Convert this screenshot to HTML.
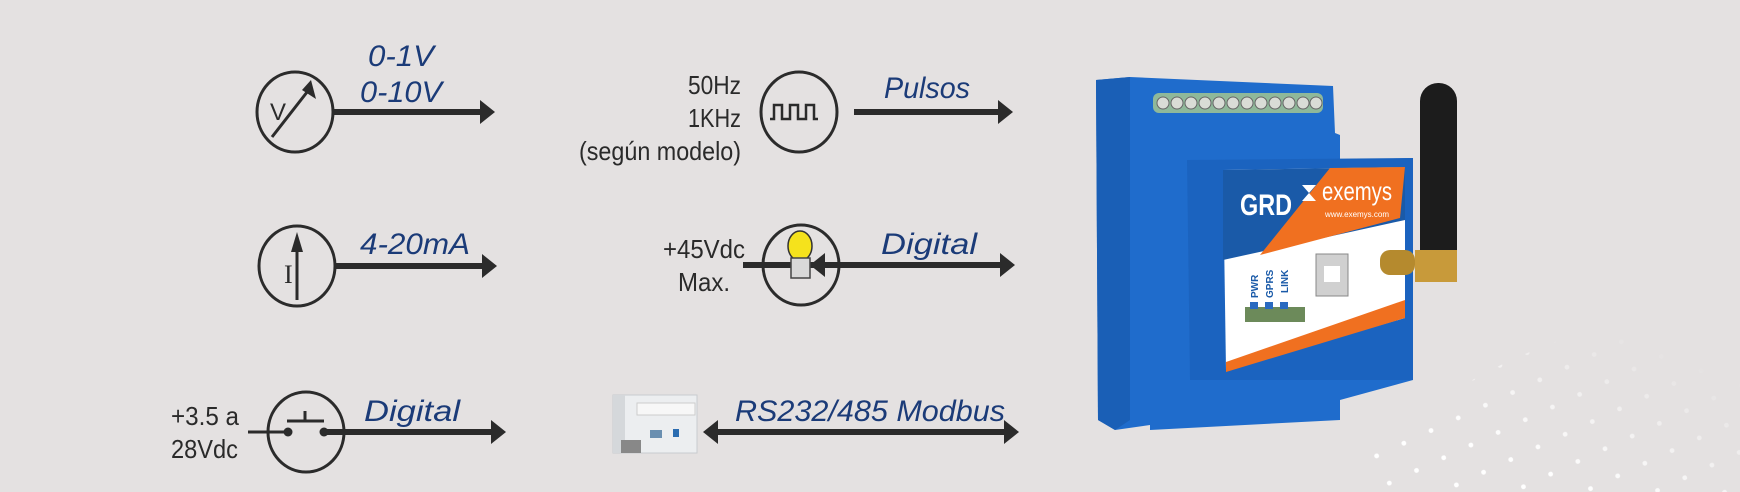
<!DOCTYPE html>
<html><head><meta charset="utf-8"><style>
html,body{margin:0;padding:0;background:#e4e1e1;}
svg{display:block}
.b{font-family:"Liberation Sans",sans-serif;font-style:italic;fill:#1b3b78;font-size:30px}
.k{font-family:"Liberation Sans",sans-serif;fill:#2a2a2a;font-size:26px}
</style></head><body>
<svg width="1740" height="492" viewBox="0 0 1740 492" xmlns="http://www.w3.org/2000/svg">
<defs>
<pattern id="dots" width="30" height="30" patternUnits="userSpaceOnUse" patternTransform="rotate(-25)">
<circle cx="5" cy="5" r="2.4" fill="#fff"/></pattern>
<linearGradient id="fade" x1="0" y1="1" x2="1" y2="0"><stop offset="0.3" stop-color="#fff" stop-opacity="1"/><stop offset="0.8" stop-color="#fff" stop-opacity="0"/></linearGradient>
<mask id="m"><path d="M1340,492 Q1470,330 1740,300 L1740,492 Z" fill="url(#fade)"/></mask>
</defs>
<rect width="1740" height="492" fill="#e4e1e1"/>
<rect x="1330" y="290" width="410" height="202" fill="url(#dots)" mask="url(#m)"/>

<g stroke="#2b2b2b" fill="none" stroke-width="3">
<ellipse cx="295" cy="112" rx="38" ry="40"/>
<line x1="333" y1="112" x2="482" y2="112" stroke-width="6"/>
<line x1="272" y1="137" x2="311" y2="87"/>
<ellipse cx="799" cy="112" rx="38" ry="40"/>
<line x1="854" y1="112" x2="1000" y2="112" stroke-width="6"/>
<path d="M770,119 h4 v-14 h8 v14 h8 v-14 h8 v14 h8 v-14 h8 v14 h4" stroke-width="2.5"/>
<ellipse cx="297" cy="266" rx="38" ry="40"/>
<line x1="335" y1="266" x2="484" y2="266" stroke-width="6"/>
<line x1="297" y1="300" x2="297" y2="245"/>
<ellipse cx="801" cy="265" rx="38" ry="40"/>
<line x1="743" y1="265" x2="1002" y2="265" stroke-width="6"/>
<ellipse cx="306" cy="432" rx="38" ry="40"/>
<line x1="248" y1="432" x2="288" y2="432"/>
<line x1="324" y1="432" x2="493" y2="432" stroke-width="6"/>
<line x1="287" y1="421" x2="324" y2="421"/>
<line x1="305" y1="421" x2="305" y2="411"/>
<line x1="716" y1="432" x2="1006" y2="432" stroke-width="6"/>
</g>
<g fill="#2b2b2b">
<path d="M480,100 L495,112 L480,124 Z"/>
<path d="M998,100 L1013,112 L998,124 Z"/>
<path d="M311,80 L316,99 L302,90 Z"/>
<path d="M482,254 L497,266 L482,278 Z"/>
<path d="M297,232 L291,252 L303,252 Z"/>
<text x="284" y="283" font-family="Liberation Serif" font-size="26">I</text>
<text x="270" y="120" font-family="Liberation Sans" font-size="24">V</text>
<path d="M1000,253 L1015,265 L1000,277 Z"/>
<path d="M825,253 L810,265 L825,277 Z"/>
<circle cx="288" cy="432" r="4.5"/><circle cx="324" cy="432" r="4.5"/>
<path d="M491,420 L506,432 L491,444 Z"/>
<path d="M1004,420 L1019,432 L1004,444 Z"/>
<path d="M718,420 L703,432 L718,444 Z"/>
</g>
<ellipse cx="800" cy="246" rx="12" ry="15" fill="#f5e21c" stroke="#333" stroke-width="1.5"/>
<rect x="791" y="258" width="19" height="20" fill="#d8d8d8" stroke="#444" stroke-width="1.5"/>
<g>
<rect x="613" y="395" width="84" height="58" fill="#eceef0" stroke="#c9cccf"/>
<rect x="613" y="395" width="12" height="58" fill="#d5d8db"/>
<rect x="637" y="403" width="58" height="12" fill="#f7f7f7" stroke="#ccc"/>
<rect x="650" y="430" width="12" height="8" fill="#6a8fb0"/><rect x="673" y="429" width="6" height="8" fill="#2b6cb0"/>
<rect x="621" y="440" width="20" height="13" fill="#888"/>
</g>
<g lengthAdjust="spacingAndGlyphs">
<text class="b" x="368" y="66" textLength="66" lengthAdjust="spacingAndGlyphs">0-1V</text>
<text class="b" x="360" y="102" textLength="82" lengthAdjust="spacingAndGlyphs">0-10V</text>
<text class="b" x="884" y="98" textLength="86" lengthAdjust="spacingAndGlyphs">Pulsos</text>
<text class="k" x="688" y="94" textLength="53" lengthAdjust="spacingAndGlyphs">50Hz</text>
<text class="k" x="688" y="127" textLength="53" lengthAdjust="spacingAndGlyphs">1KHz</text>
<text class="k" x="579" y="160" textLength="162" lengthAdjust="spacingAndGlyphs">(según modelo)</text>
<text class="b" x="360" y="254" textLength="110" lengthAdjust="spacingAndGlyphs">4-20mA</text>
<text class="b" x="881" y="254" textLength="96" lengthAdjust="spacingAndGlyphs">Digital</text>
<text class="k" x="663" y="258" textLength="82" lengthAdjust="spacingAndGlyphs">+45Vdc</text>
<text class="k" x="678" y="291" textLength="52" lengthAdjust="spacingAndGlyphs">Max.</text>
<text class="b" x="364" y="421" textLength="96" lengthAdjust="spacingAndGlyphs">Digital</text>
<text class="k" x="171" y="425" textLength="68" lengthAdjust="spacingAndGlyphs">+3.5 a</text>
<text class="k" x="171" y="458" textLength="67" lengthAdjust="spacingAndGlyphs">28Vdc</text>
<text class="b" x="735" y="421" textLength="270" lengthAdjust="spacingAndGlyphs">RS232/485 Modbus</text>
</g>

<g>
<path d="M1096,80 L1130,77 L1333,86 L1335,133 L1340,135 L1340,160 L1413,158 L1413,380 L1340,400 L1340,420 L1150,430 L1150,425 L1115,430 L1098,420 Z" fill="#1f6ccc"/>
<path d="M1096,80 L1130,77 L1130,420 L1115,430 L1098,420 Z" fill="#1a5fb6"/>
<rect x="1153" y="93" width="170" height="20" rx="6" fill="#8fb89a"/>
<g fill="#d9dcd6" stroke="#666" stroke-width="1">
<circle cx="1163" cy="103" r="6"/><circle cx="1177" cy="103" r="6"/><circle cx="1191" cy="103" r="6"/><circle cx="1205" cy="103" r="6"/><circle cx="1219" cy="103" r="6"/><circle cx="1233" cy="103" r="6"/><circle cx="1247" cy="103" r="6"/><circle cx="1261" cy="103" r="6"/><circle cx="1275" cy="103" r="6"/><circle cx="1289" cy="103" r="6"/><circle cx="1303" cy="103" r="6"/><circle cx="1316" cy="103" r="6"/>
</g>
<path d="M1187,160 L1413,158 L1413,380 L1190,380 Z" fill="#1b63bf"/>
<path d="M1223,170 L1405,167 L1405,318 L1226,370 Z" fill="#fff"/>
<path d="M1223,170 L1405,167 L1405,220 L1223,260 Z" fill="#1a5aa8"/>
<path d="M1330,168 L1405,167 L1400,218 L1260,255 Z" fill="#f07020"/>
<path d="M1405,300 L1405,318 L1226,372 L1226,362 Z" fill="#f07020"/>
<text x="1240" y="215" font-family="Liberation Sans" font-weight="bold" font-size="30" fill="#fff" textLength="52" lengthAdjust="spacingAndGlyphs">GRD</text>
<text x="1322" y="200" font-family="Liberation Sans" font-size="26" fill="#fff" textLength="70" lengthAdjust="spacingAndGlyphs">exemys</text>
<text x="1325" y="217" font-family="Liberation Sans" font-size="8" fill="#fff">www.exemys.com</text>
<path d="M1302,185 l14,0 l-7,8 z M1302,201 l14,0 l-7,-8 z" fill="#fff"/>
<rect x="1316" y="254" width="32" height="42" fill="#d0d0d0" stroke="#888"/>
<rect x="1324" y="266" width="16" height="16" fill="#fff"/>
<g font-family="Liberation Sans" font-size="10" font-weight="bold" fill="#1a5aa8">
<text transform="translate(1258,298) rotate(-90)">PWR</text>
<text transform="translate(1273,298) rotate(-90)">GPRS</text>
<text transform="translate(1288,293) rotate(-90)">LINK</text>
</g>
<rect x="1245" y="307" width="60" height="15" fill="#6c8a5a"/>
<rect x="1250" y="302" width="8" height="7" fill="#2a6ac0"/><rect x="1265" y="302" width="8" height="7" fill="#2a6ac0"/><rect x="1280" y="302" width="8" height="7" fill="#2a6ac0"/>
<rect x="1380" y="250" width="35" height="25" rx="10" fill="#b58a2e"/>
<rect x="1420" y="83" width="37" height="185" rx="18" fill="#1c1c1c"/>
<rect x="1415" y="250" width="42" height="32" fill="#c89a3a"/>
</g>
</svg>
</body></html>
